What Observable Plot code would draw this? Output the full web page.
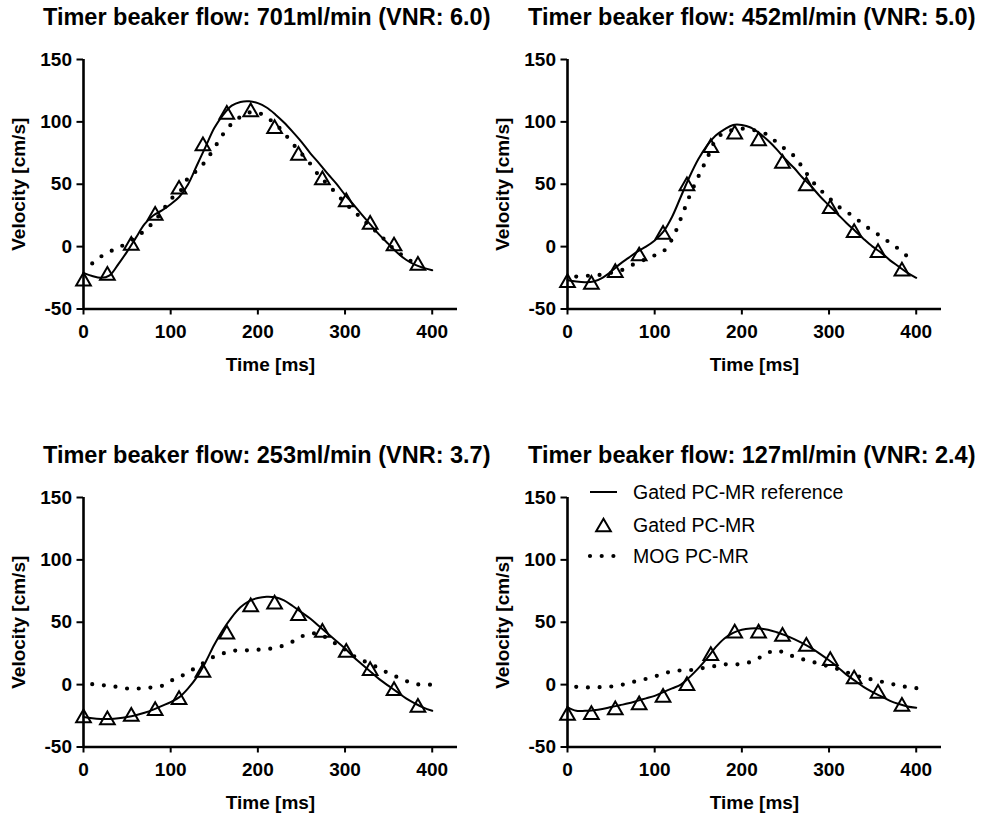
<!DOCTYPE html>
<html>
<head>
<meta charset="utf-8">
<script src="https://cdn.jsdelivr.net/npm/d3@7"></script>
<script src="https://cdn.jsdelivr.net/npm/@observablehq/plot@0.6"></script>
<style>
  html, body { margin: 0; padding: 0; background: #fff; }
  body { width: 991px; height: 814px; overflow: hidden; position: relative; font-family: 'Liberation Sans', Arial, sans-serif; }
  .panel { position: absolute; width: 480px; }
  .title { position: absolute; font-weight: bold; font-size: 23.5px; line-height: 1; white-space: nowrap; color: #000; }
  #legend { position: absolute; left: 580px; top: 475px; pointer-events: none; }
</style>
</head>
<body>
<script>
// ---------------- data ----------------
const titles = [
  "Timer beaker flow: 701ml/min (VNR: 6.0)",
  "Timer beaker flow: 452ml/min (VNR: 5.0)",
  "Timer beaker flow: 253ml/min (VNR: 3.7)",
  "Timer beaker flow: 127ml/min (VNR: 2.4)"
];
const seriesNames = ["Gated PC-MR reference", "Gated PC-MR", "MOG PC-MR"];
const xTicks = [0, 100, 200, 300, 400];
const yTicks = [-50, 0, 50, 100, 150];
const xLabel = "Time [ms]";
const yLabel = "Velocity [cm/s]";

// time grids (ms)
const refTime = [0,10,20,30,40,50,60,70,80,90,100,110,120,130,140,150,160,170,180,190,200,210,220,230,240,250,260,270,280,290,300,310,320,330,340,350,360,370,380,390,400];
const mogTime = [10,20,30,40,50,60,70,80,90,100,110,120,130,140,150,160,170,180,190,200,210,220,230,240,250,260,270,280,290,300,310,320,330,340,350,360,370,380,390,400,410];
const triTime = [0,27.4,54.8,82.2,109.6,137,164.4,191.8,219.2,246.6,274,301.4,328.8,356.2,383.6];

// Panel 1: 701 ml/min
const p1Ref = [-21,-23.5,-25,-23,-14,-4,7,18,25,29,34,40,50,65,80,95,105.5,113,116,116.5,115,111.5,106,99.5,92,84,75,67,58.5,50.5,41.5,33.5,25,17,9,2,-5,-10.5,-14.5,-17,-19];
const p1Tri = [-26,-21.5,2.6,26.7,47.6,82.4,107.7,109.6,96.2,74.8,55.1,37.4,19.5,2.1,-13.4];
const p1Mog = [-13.5,-8,-4,-1,3,7.6,12.7,19.5,28,38,43.5,55,61,68.5,79,90,98.5,104,107.5,107.5,103.5,98.5,91,82.5,74.5,66.5,57,50,42.5,35,28.5,22,15.5,9.5,2,-4,-9,-13.5,null,null,null];

// Panel 2: 452 ml/min
const p2Ref = [-27,-28,-28.5,-28,-25,-20,-14,-9,-4,0,5,12,24,40,56,70,81,89,94,97.5,97.5,95.5,91,85,78,70,63,55,48,40,33,26,19,12.5,6,0,-5,-11,-16,-21,-25];
const p2Tri = [-27.3,-28.6,-19.3,-5.9,11.5,50.3,81,91.7,86.4,68.4,50.3,32,12.8,-3.2,-18];
const p2Mog = [-24,-23.5,-23,-22.4,-21,-19.5,-16,-13,-10,-7,-3.8,6,22.5,40.5,56,70.5,85.5,91.5,93.5,94.5,94,92,89.5,83.5,78,72.5,63,53,45.5,39,32.5,28,23,17.5,12.5,8,3,-2,-8,null,null];

// Panel 3: 253 ml/min
const p3Ref = [-26,-27,-27.5,-27.5,-27,-26,-24.5,-22.5,-20,-17,-14,-10,-3,6,18,32,44,54,62,67,69.5,70.5,70,67.5,63,58,53,47,41,35,29,22,16,10,4,-1,-6,-11,-15,-18.5,-21];
const p3Tri = [-25,-26.7,-23.8,-19.3,-10.4,11.4,42.1,64,66.1,56.8,43.5,27.5,12.8,-3.2,-16.6];
const p3Mog = [0.4,-0.3,-1.1,-2,-3.1,-3.2,-2.8,-2.1,-1,3,6,10,14,18.5,22.5,25,27,27.5,27.5,28,28.5,29.5,31.5,34.5,38.5,41,40.5,37,32.5,28,23,19.5,16,13,9,6,3,0.5,0,0,0];

// Panel 4: 127 ml/min
const p4Ref = [-18,-21,-21,-20.5,-19.5,-18,-16.5,-15,-13,-11,-9,-6,-3,0,6,13,21,30,37,41.5,44,45,45,44,42,39.5,36.5,33,29,24.5,19.5,14,8,3,-2,-6,-9.5,-13,-15.5,-17.5,-18.5];
const p4Tri = [-23,-22.5,-18.7,-14.7,-8.6,0.8,24.8,42.9,42.9,40.3,32.3,20.8,6.1,-5.4,-15.8];
const p4Mog = [-1.8,-2.2,-2.2,-1.9,-1.5,-0.5,1.2,3,4.6,6.5,8.8,10.6,11.4,11.5,13,13.5,15,16.2,16.2,16.6,18.2,21.5,25.5,27.5,25,22.4,20.3,18.4,16.6,14.5,12.5,10,7.5,5.5,4,2.4,0.9,-0.8,-2,-2.8,-3.8];

// ---------------- drawing ----------------
const FONT = "'Liberation Sans', Arial, Helvetica, sans-serif";

// triangle centred on its bounding box (as in the original software)
const triSymbol = {
  draw(context, size) {
    const y = Math.sqrt(size / (3 * Math.sqrt(3)));
    const w = Math.sqrt(3) * y;
    context.moveTo(0, -1.5 * y);
    context.lineTo(w, 1.5 * y);
    context.lineTo(-w, 1.5 * y);
    context.closePath();
  }
};

function makePanel(ref, tri, mog, bottomRow) {
  const refData = refTime.map((t, i) => ({t, v: ref[i]}));
  const triData = triTime.map((t, i) => ({t, v: tri[i]}));
  const mogData = mogTime.map((t, i) => ({t, v: mog[i]})).filter(d => d.v != null);
  const height = bottomRow ? 336 : 350;
  const marginBottom = bottomRow ? 67.5 : 81.5;
  return Plot.plot({
    width: 480,
    height,
    marginLeft: 83,
    marginRight: 23,
    marginTop: 19,
    marginBottom,
    x: {domain: [0, 429]},
    y: {domain: [-50, 150]},
    style: {fontFamily: FONT, fontSize: "19px", fontWeight: "bold", color: "#000", background: "transparent", overflow: "visible"},
    marks: [
      Plot.axisX({ticks: xTicks, tickSize: 6, tickPadding: 9.5, strokeWidth: 2, tickFormat: d => String(d),
        label: xLabel, labelArrow: "none", labelAnchor: "center", labelOffset: 62}),
      Plot.axisY({ticks: yTicks, tickSize: 6.5, tickPadding: 5, strokeWidth: 2, tickFormat: d => String(d),
        label: yLabel, labelArrow: "none", labelAnchor: "center", labelOffset: 72}),
      Plot.ruleY([-50], {strokeWidth: 2.6}),
      Plot.ruleX([0], {strokeWidth: 2.6}),
      Plot.line(mogData, {x: "t", y: "v", curve: "catmull-rom", stroke: "#000", strokeWidth: 4.2,
        strokeDasharray: "0 11.7", strokeLinecap: "round"}),
      Plot.line(refData, {x: "t", y: "v", curve: "catmull-rom", stroke: "#000", strokeWidth: 2}),
      Plot.dot(triData, {x: "t", y: "v", symbol: triSymbol, r: 5.45, stroke: "#000", strokeWidth: 2, fill: "none"})
    ]
  });
}

const panels = [
  {ref: p1Ref, tri: p1Tri, mog: p1Mog, left: 0,   top: 40,  titleLeft: 43,  titleTop: 5.5,   bottom: false},
  {ref: p2Ref, tri: p2Tri, mog: p2Mog, left: 484, top: 40,  titleLeft: 528, titleTop: 5.5,   bottom: false},
  {ref: p3Ref, tri: p3Tri, mog: p3Mog, left: 0,   top: 478, titleLeft: 43,  titleTop: 443.5, bottom: true},
  {ref: p4Ref, tri: p4Tri, mog: p4Mog, left: 484, top: 478, titleLeft: 528, titleTop: 443.5, bottom: true}
];

panels.forEach((p, i) => {
  const t = document.createElement("div");
  t.className = "title";
  t.style.left = p.titleLeft + "px";
  t.style.top = p.titleTop + "px";
  t.textContent = titles[i];
  document.body.appendChild(t);

  const div = document.createElement("div");
  div.className = "panel";
  div.style.left = p.left + "px";
  div.style.top = p.top + "px";
  div.appendChild(makePanel(p.ref, p.tri, p.mog, p.bottom));
  document.body.appendChild(div);
});

// ---------------- legend (inside bottom-right panel) ----------------
// legend svg placed at page (580, 475); coordinates below are local to it
const lg = d3.select(document.body).append("svg")
  .attr("id", "legend").attr("width", 300).attr("height", 95)
  .style("font-family", FONT).style("font-size", "19.5px");
const lgX = 10, lgTextX = 53;
const lgRows = [17, 50, 81];
lg.append("line").attr("x1", lgX).attr("x2", lgX + 27).attr("y1", lgRows[0]).attr("y2", lgRows[0])
  .attr("stroke", "#000").attr("stroke-width", 2);
lg.append("path").attr("d", d3.symbol(triSymbol, Math.PI * 5.45 * 5.45)())
  .attr("transform", `translate(${lgX + 13.5},${lgRows[1]})`)
  .attr("fill", "none").attr("stroke", "#000").attr("stroke-width", 2);
lg.append("line").attr("x1", lgX).attr("x2", lgX + 24).attr("y1", lgRows[2]).attr("y2", lgRows[2])
  .attr("stroke", "#000").attr("stroke-width", 4.2).attr("stroke-dasharray", "0 11.7").attr("stroke-linecap", "round");
seriesNames.forEach((name, i) => {
  lg.append("text").attr("x", lgTextX).attr("y", lgRows[i]).attr("dy", "0.35em").attr("fill", "#000").text(name);
});
</script>
</body>
</html>
